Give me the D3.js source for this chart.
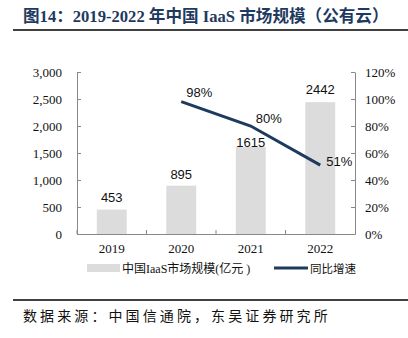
<!DOCTYPE html>
<html>
<head>
    <meta charset="utf-8">
    <script src="https://d3js.org/d3.v7.min.js"></script>
    <style>
        body { margin: 0; background: #fff; }
        svg { display: block; }
    </style>
</head>
<body>
    <svg width="408" height="338"></svg>

    <script>
    const years = ["2019", "2020", "2021", "2022"];
    const marketSize = [453, 895, 1615, 2442];
    const growth = [null, 98, 80, 51];
    const leftTicks = [0, 500, 1000, 1500, 2000, 2500, 3000];
    const rightTicks = [0, 20, 40, 60, 80, 100, 120];

    const svg = d3.select("svg");
    const serif = "'Liberation Serif', 'Times New Roman', serif";
    const sans = "'Liberation Sans', Arial, sans-serif";
    const cjk = "'Liberation Serif', 'Noto Sans CJK SC', serif";
    const navy = "#1f3a5f";

    const x = d3.scaleBand().domain(years).range([77, 355]).paddingInner(0.57).paddingOuter(0.285);
    const band = d3.scaleBand().domain(years).range([77, 355]);
    const yL = d3.scaleLinear().domain([0, 3000]).range([234, 72]);
    const yR = d3.scaleLinear().domain([0, 120]).range([234, 72]);

    // title
    svg.append("text").attr("x", 23).attr("y", 22)
        .style("font-family", "'Liberation Serif', 'Noto Sans CJK SC', serif")
        .style("font-weight", "bold").style("font-size", "16.6px").style("fill", navy)
        .text("图14：2019-2022 年中国 IaaS 市场规模（公有云）");
    svg.append("line").attr("x1", 13).attr("x2", 408).attr("y1", 30).attr("y2", 30)
        .style("stroke", "#000").style("stroke-width", 1.6);

    // bars
    svg.selectAll("rect.bar").data(marketSize).enter().append("rect")
        .attr("class", "bar")
        .attr("x", (d, i) => x(years[i]))
        .attr("width", x.bandwidth())
        .attr("y", d => yL(d))
        .attr("height", d => yL(0) - yL(d))
        .style("fill", "#dcdcdc");

    // label gap above each bar (the 2021 one is pushed down under the line)
    const barGap = [8, 7, 0, 8];
    svg.selectAll("text.barlab").data(marketSize).enter().append("text")
        .attr("x", (d, i) => x(years[i]) + x.bandwidth() / 2)
        .attr("y", (d, i) => yL(d) - barGap[i])
        .attr("text-anchor", "middle")
        .style("font-family", sans).style("font-size", "13px").style("fill", "#111")
        .text(d => d);

    // axes
    const axisColor = "#888";
    const gl = svg.append("g").attr("transform", "translate(77,0)")
        .call(d3.axisLeft(yL).tickValues(leftTicks).tickFormat(d3.format(",")).tickSizeInner(-4).tickSizeOuter(0).tickPadding(15));
    const gr = svg.append("g").attr("transform", "translate(355,0)")
        .call(d3.axisRight(yR).tickValues(rightTicks).tickFormat(d => d + "%").tickSizeInner(-4).tickSizeOuter(0).tickPadding(10));
    const gx = svg.append("g").attr("transform", "translate(0,234)")
        .call(d3.axisBottom(band).tickSize(0).tickPadding(10));
    gx.selectAll(".tick").data(years).append("line")
        .attr("x1", -band.bandwidth() / 2).attr("x2", -band.bandwidth() / 2)
        .attr("y1", 0).attr("y2", -4);

    [gl, gr, gx].forEach(g => {
        g.selectAll("path, line").style("stroke", axisColor);
        g.selectAll("text").style("font-family", serif).style("font-size", "13px").style("fill", "#111");
    });
    gx.selectAll("text").attr("dy", "0.71em");

    // growth line
    const pts = growth.map((g, i) => ({ year: years[i], v: g })).filter(d => d.v !== null);
    const cx = d => band(d.year) + band.bandwidth() / 2;
    const line = d3.line().x(cx).y(d => yR(d.v));
    svg.append("path").datum(pts).attr("d", line)
        .style("fill", "none").style("stroke", navy).style("stroke-width", 3);

    const labPos = [{ dx: 18, dy: -5, anchor: "middle" }, { dx: 18, dy: -3, anchor: "middle" }, { dx: 6, dy: 1, anchor: "start" }];
    svg.selectAll("text.glab").data(pts).enter().append("text")
        .attr("x", (d, i) => cx(d) + labPos[i].dx)
        .attr("y", (d, i) => yR(d.v) + labPos[i].dy)
        .attr("text-anchor", (d, i) => labPos[i].anchor)
        .style("font-family", sans).style("font-size", "13px").style("fill", "#111")
        .text(d => d.v + "%");

    // legend
    const lg = svg.append("g").attr("transform", "translate(0,268)");
    lg.append("rect").attr("x", 87).attr("y", -4).attr("width", 33).attr("height", 8).style("fill", "#dcdcdc");
    lg.append("text").attr("x", 122).attr("y", 4.5)
        .style("font-family", cjk).style("font-size", "12px").style("fill", "#111")
        .text("中国IaaS市场规模(亿元 )");
    lg.append("line").attr("x1", 274).attr("x2", 308).attr("y1", 0).attr("y2", 0)
        .style("stroke", navy).style("stroke-width", 3);
    lg.append("text").attr("x", 310).attr("y", 4.5)
        .style("font-family", cjk).style("font-size", "11.5px").style("fill", "#111")
        .text("同比增速");

    // footer
    svg.append("line").attr("x1", 13).attr("x2", 408).attr("y1", 300).attr("y2", 300)
        .style("stroke", "#000").style("stroke-width", 1.6);
    svg.append("text").attr("x", 23).attr("y", 321)
        .style("font-family", "'Noto Sans CJK SC', sans-serif").style("font-size", "14px")
        .style("letter-spacing", "3.1px").style("fill", "#111")
        .text("数据来源：中国信通院，东吴证券研究所");
    </script>
</body>
</html>
